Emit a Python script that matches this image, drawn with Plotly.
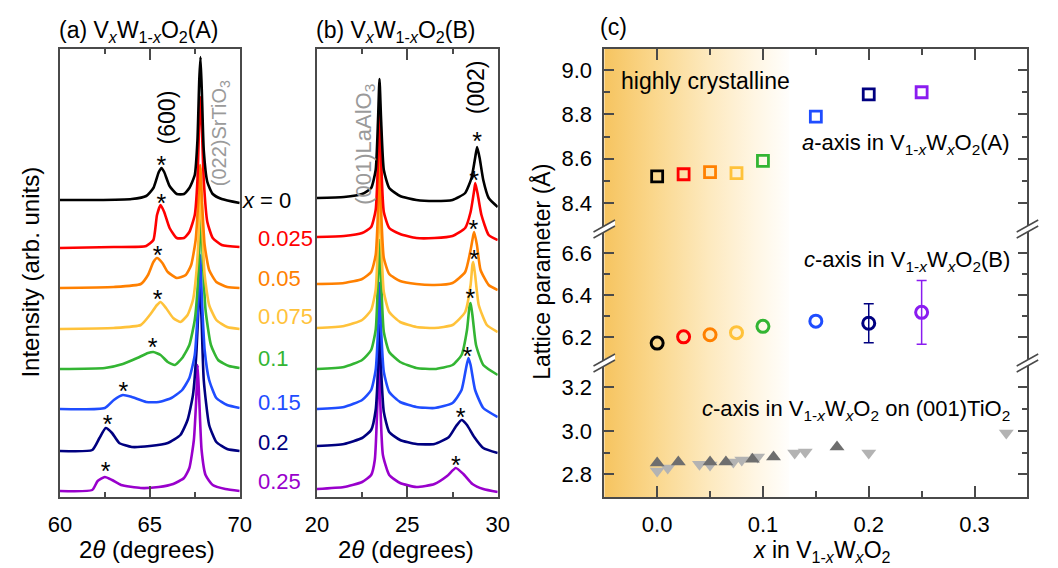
import plotly.graph_objects as go

W, H = 1058, 568
FONT = "Liberation Sans, Arial, sans-serif"
AXC = "#4a4a4a"

# ---------------- data ----------------
compositions = ["0", "0.025", "0.05", "0.075", "0.1", "0.15", "0.2", "0.25"]
colors = ["#000000", "#ff0000", "#ff8000", "#ffc23a", "#33b533", "#1f4dff", "#000080", "#9900cc"]
c_colors = ["#000000", "#ff0000", "#ff8000", "#ffc23a", "#33b533", "#1f4dff", "#000080", "#8a1cf0"]

# Panel (a): 2theta 60-70, offset intensity (arb. units)
a_x = [
    [60, 62, 64, 64.8, 65.2, 65.5, 65.65, 65.8, 66.1, 66.5, 66.9, 67.2, 67.5, 67.65, 67.75, 67.82, 67.9, 68.0, 68.2, 68.5, 69, 70],
    [60, 63, 64.8, 65.2, 65.4, 65.6, 65.8, 66.1, 66.5, 66.9, 67.2, 67.5, 67.65, 67.75, 67.82, 67.9, 68.0, 68.2, 68.5, 69, 70],
    [60, 63, 64.5, 64.9, 65.2, 65.4, 65.7, 66.0, 66.5, 67.0, 67.3, 67.55, 67.7, 67.8, 67.9, 68.05, 68.3, 68.7, 69.3, 70],
    [60, 63, 64.5, 65.0, 65.4, 65.6, 65.9, 66.3, 66.7, 67.1, 67.4, 67.6, 67.75, 67.82, 67.9, 68.05, 68.3, 68.7, 69.3, 70],
    [60, 62.5, 63.5, 64.3, 64.9, 65.2, 65.6, 66.0, 66.4, 66.8, 67.2, 67.5, 67.65, 67.78, 67.85, 67.95, 68.1, 68.4, 68.8, 69.4, 70],
    [60, 62.5, 63.0, 63.5, 64.0, 64.8, 65.5, 66.2, 66.8, 67.2, 67.5, 67.7, 67.8, 67.9, 68.05, 68.3, 68.7, 69.3, 70],
    [60, 61.8, 62.2, 62.55, 62.9, 63.3, 64.0, 65.0, 66.0, 66.7, 67.1, 67.4, 67.6, 67.72, 67.78, 67.88, 68.0, 68.3, 68.7, 69.3, 70],
    [60, 61.8, 62.1, 62.5, 62.9, 63.4, 64.5, 65.5, 66.3, 66.9, 67.2, 67.45, 67.58, 67.66, 67.75, 67.88, 68.1, 68.5, 69.2, 70],
]
a_y = [
    [297, 297, 298, 301, 309, 325, 329, 325, 311, 303, 303, 309, 322, 357, 417, 440, 402, 347, 315, 303, 298, 294],
    [249, 250, 251, 257, 282, 292, 285, 269, 259, 259, 265, 282, 317, 377, 400, 367, 317, 275, 259, 252, 250],
    [209, 210, 213, 222, 235, 239, 234, 225, 219, 222, 232, 257, 297, 332, 297, 252, 227, 215, 210, 209],
    [168, 169, 172, 182, 192, 195, 189, 179, 175, 182, 197, 227, 277, 329, 277, 222, 192, 177, 170, 168],
    [128, 129, 133, 139, 144, 145, 142, 135, 132, 139, 152, 177, 207, 257, 287, 237, 187, 152, 137, 131, 129],
    [88, 89, 97, 102, 100, 95, 95, 99, 107, 119, 142, 197, 242, 197, 147, 117, 99, 92, 89],
    [46, 47, 59, 69, 64, 54, 50, 51, 54, 62, 77, 102, 147, 197, 217, 177, 117, 72, 55, 48, 46],
    [6, 7, 16, 20, 17, 12, 9, 10, 13, 19, 29, 57, 97, 132, 97, 47, 22, 12, 8, 6],
]
a_star_x = [65.65, 65.65, 65.43, 65.43, 65.16, 63.53, 62.66, 62.55]
a_star_y = [329, 291, 239, 195, 147, 103, 70, 23]

# Panel (b): 2theta 20-30
b_x = [
    [20, 21.5, 22.5, 23.0, 23.25, 23.38, 23.46, 23.55, 23.7, 24.0, 24.6, 25.5, 26.5, 27.5, 28.2, 28.55, 28.75, 28.86, 29.0, 29.2, 29.5, 30],
    [20, 21.5, 22.5, 23.0, 23.25, 23.38, 23.46, 23.55, 23.7, 24.0, 24.6, 25.5, 26.5, 27.5, 28.2, 28.5, 28.7, 28.76, 28.9, 29.1, 29.5, 30],
    [20, 21.5, 22.5, 23.0, 23.25, 23.38, 23.46, 23.55, 23.7, 24.0, 24.6, 25.5, 26.5, 27.5, 28.2, 28.5, 28.65, 28.7, 28.85, 29.05, 29.5, 30],
    [20, 21.5, 22.5, 23.0, 23.25, 23.38, 23.46, 23.55, 23.7, 24.0, 24.6, 25.5, 26.5, 27.5, 28.2, 28.5, 28.6, 28.65, 28.75, 28.95, 29.4, 30],
    [20, 21.5, 22.5, 23.0, 23.25, 23.38, 23.46, 23.55, 23.7, 24.0, 24.6, 25.5, 26.5, 27.5, 28.0, 28.3, 28.45, 28.5, 28.6, 28.8, 29.2, 30],
    [20, 21.5, 22.5, 23.0, 23.25, 23.38, 23.46, 23.55, 23.7, 24.0, 24.6, 25.5, 26.5, 27.5, 28.0, 28.25, 28.38, 28.5, 28.75, 29.2, 30],
    [20, 21.5, 22.5, 23.0, 23.25, 23.38, 23.46, 23.55, 23.7, 24.0, 24.6, 25.5, 26.5, 27.3, 27.7, 28.0, 28.3, 28.7, 29.2, 30],
    [20, 21.5, 22.5, 23.0, 23.2, 23.35, 23.42, 23.5, 23.65, 24.0, 24.6, 25.5, 26.5, 27.2, 27.68, 28.1, 28.6, 29.2, 30],
]
b_y = [
    [299, 300, 303, 309, 327, 377, 418, 377, 327, 309, 301, 297, 296, 297, 304, 319, 339, 350, 339, 317, 299, 290],
    [260, 261, 264, 270, 287, 337, 392, 337, 285, 269, 263, 259, 259, 261, 269, 285, 307, 314, 302, 282, 262, 257],
    [213, 214, 218, 225, 242, 287, 347, 287, 239, 223, 216, 213, 212, 214, 225, 247, 262, 265, 252, 227, 212, 207],
    [169, 171, 177, 187, 207, 257, 307, 257, 205, 185, 175, 170, 169, 172, 185, 212, 232, 235, 222, 192, 172, 165],
    [128, 130, 137, 147, 167, 217, 257, 217, 165, 145, 135, 129, 128, 132, 142, 167, 192, 194, 182, 152, 132, 122],
    [88, 90, 97, 107, 127, 167, 214, 167, 125, 105, 95, 90, 89, 94, 107, 129, 139, 132, 107, 89, 80],
    [51, 53, 59, 67, 87, 127, 172, 127, 85, 65, 57, 53, 53, 60, 71, 77, 72, 60, 49, 44],
    [8, 10, 15, 22, 37, 97, 157, 97, 42, 22, 14, 10, 13, 21, 29, 23, 13, 8, 5],
]
b_star_x = [28.86, 28.70, 28.65, 28.70, 28.49, 28.32, 27.95, 27.68]
b_star_y = [353, 314, 265, 235, 196, 138, 77, 29]

# Panel (c): lattice parameters
x_W = [0, 0.025, 0.05, 0.075, 0.1, 0.15, 0.2, 0.25]
a_axis_A = [8.52, 8.53, 8.54, 8.535, 8.59, 8.79, 8.89, 8.90]
c_axis_B = [6.17, 6.20, 6.21, 6.22, 6.25, 6.275, 6.265, 6.317]
c_axis_B_err = [0, 0, 0, 0, 0, 0, 0.093, 0.152]
tio2_up_x = [0, 0.02, 0.05, 0.065, 0.09, 0.11, 0.17]
tio2_up_y = [2.852, 2.857, 2.857, 2.857, 2.87, 2.88, 2.926]
tio2_dn_x = [0, 0.01, 0.04, 0.05, 0.072, 0.08, 0.095, 0.13, 0.14, 0.2, 0.33]
tio2_dn_y = [2.815, 2.829, 2.847, 2.843, 2.857, 2.866, 2.88, 2.898, 2.903, 2.898, 2.99]

# ---------------- layout helpers ----------------
T, B = 49, 71
PH = H - T - B


def px(x):
    return x / W


def py(y):
    return (H - B - y) / PH


fig = go.Figure()

LINE = dict(width=2.6, shape="spline", smoothing=0.5)
for i in reversed(range(8)):
    fig.add_trace(go.Scatter(x=a_x[i], y=a_y[i], mode="lines", xaxis="x", yaxis="y",
                             line=dict(color=colors[i], **LINE), showlegend=False, hoverinfo="skip"))
    fig.add_trace(go.Scatter(x=b_x[i], y=b_y[i], mode="lines", xaxis="x2", yaxis="y2",
                             line=dict(color=colors[i], **LINE), showlegend=False, hoverinfo="skip"))
fig.add_trace(go.Scatter(x=a_star_x, y=a_star_y, mode="text", text=["*"] * 8, xaxis="x", yaxis="y",
                         textfont=dict(family=FONT, size=25, color="black"), showlegend=False, hoverinfo="skip"))
fig.add_trace(go.Scatter(x=b_star_x, y=b_star_y, mode="text", text=["*"] * 8, xaxis="x2", yaxis="y2",
                         textfont=dict(family=FONT, size=25, color="black"), showlegend=False, hoverinfo="skip"))

# Panel (c) gradient background: three segments
seg_axes = ["y3", "y4", "y5"]
seg_ranges = [[2.696, 3.312], [6.075, 6.715], [8.283, 9.095]]
grad = [[0, "rgb(246,196,96)"], [0.25, "rgb(250,214,138)"], [0.55, "rgb(253,233,190)"],
        [0.8, "rgb(255,246,228)"], [1, "rgb(255,255,255)"]]
for ya, rg in zip(seg_axes, seg_ranges):
    fig.add_trace(go.Scatter(x=[-0.05, 0.125, 0.125, -0.05, -0.05], y=[rg[0], rg[0], rg[1], rg[1], rg[0]],
                             mode="lines", fill="toself", line=dict(width=0), xaxis="x3", yaxis=ya,
                             fillgradient=dict(type="horizontal", colorscale=grad, start=-0.05, stop=0.125),
                             showlegend=False, hoverinfo="skip"))

# TiO2 triangles
fig.add_trace(go.Scatter(x=tio2_dn_x, y=tio2_dn_y, mode="markers", xaxis="x3", yaxis="y3",
                         marker=dict(symbol="triangle-down", size=13, color="#b3b3b3"), showlegend=False))
fig.add_trace(go.Scatter(x=tio2_up_x, y=tio2_up_y, mode="markers", xaxis="x3", yaxis="y3",
                         marker=dict(symbol="triangle-up", size=13, color="#6e6e6e"), showlegend=False))

for i in range(8):
    fig.add_trace(go.Scatter(x=[x_W[i]], y=[c_axis_B[i]], mode="markers", xaxis="x3", yaxis="y4",
                             marker=dict(symbol="circle-open", size=12, color=c_colors[i], line=dict(width=3, color=c_colors[i])),
                             error_y=dict(type="data", array=[c_axis_B_err[i]], visible=c_axis_B_err[i] > 0,
                                          color=c_colors[i], thickness=1.5, width=5),
                             showlegend=False))
    fig.add_trace(go.Scatter(x=[x_W[i]], y=[a_axis_A[i]], mode="markers", xaxis="x3", yaxis="y5",
                             marker=dict(symbol="square-open", size=11, color=c_colors[i], line=dict(width=2.8, color=c_colors[i])),
                             showlegend=False))

# dummy trace for top mirror axis of panel (c)
fig.add_trace(go.Scatter(x=[None], y=[None], xaxis="x4", yaxis="y5", showlegend=False, hoverinfo="skip"))

tickfont = dict(family=FONT, size=22, color="black")
common_x = dict(showline=True, linecolor=AXC, linewidth=1.5, mirror="ticks", ticks="inside",
                tickcolor=AXC, tickwidth=1.5, ticklen=11, tickfont=tickfont, showgrid=False,
                zeroline=False, ticklabelstandoff=7)

fig.update_layout(
    width=W, height=H, margin=dict(l=0, r=0, t=T, b=B),
    paper_bgcolor="white", plot_bgcolor="rgba(0,0,0,0)",
    font=dict(family=FONT, color="black"),
    xaxis=dict(domain=[px(49), px(233)], range=[60, 70], tickvals=[60, 65, 70], anchor="y",
               minor=dict(tickvals=[62.5, 67.5], ticks="inside", ticklen=5, tickcolor=AXC, tickwidth=1.5),
               **common_x),
    yaxis=dict(domain=[0, 1], range=[0, 448], anchor="x", showline=True, mirror=True, linecolor=AXC,
               linewidth=1.5, showticklabels=False, ticks="", showgrid=False, zeroline=False),
    xaxis2=dict(domain=[px(312), px(497)], range=[20, 30], tickvals=[20, 25, 30], anchor="y2",
                minor=dict(tickvals=[22.5, 27.5], ticks="inside", ticklen=5, tickcolor=AXC, tickwidth=1.5),
                **common_x),
    yaxis2=dict(domain=[0, 1], range=[0, 448], anchor="x2", showline=True, mirror=True, linecolor=AXC,
                linewidth=1.5, showticklabels=False, ticks="", showgrid=False, zeroline=False),
    xaxis3=dict(domain=[px(606), px(1039)], range=[-0.05, 0.35], tickvals=[0, 0.1, 0.2, 0.3],
                ticktext=["0.0", "0.1", "0.2", "0.3"], anchor="y3",
                minor=dict(tickvals=[0.05, 0.15, 0.25], ticks="inside", ticklen=6, tickcolor=AXC, tickwidth=1.5),
                **{k: v for k, v in common_x.items() if k != "mirror"}),
    xaxis4=dict(domain=[px(606), px(1039)], range=[-0.05, 0.35], tickvals=[0, 0.1, 0.2, 0.3], anchor="y5",
                side="top", showticklabels=False, showline=True, linecolor=AXC, linewidth=1.5,
                ticks="inside", tickcolor=AXC, tickwidth=1.5, ticklen=11, showgrid=False, zeroline=False,
                minor=dict(tickvals=[0.05, 0.15, 0.25], ticks="inside", ticklen=6, tickcolor=AXC, tickwidth=1.5)),
)

seg_domains = [[0, py(363)], [py(363), py(229)], [py(229), 1]]
seg_ticks = [[2.8, 3.0, 3.2], [6.2, 6.4, 6.6], [8.4, 8.6, 8.8, 9.0]]
seg_minor = [[2.9, 3.1], [6.3, 6.5], [8.5, 8.7, 8.9]]
for ya, rg, dm, tv, mv in zip(seg_axes, seg_ranges, seg_domains, seg_ticks, seg_minor):
    fig.layout["yaxis" + ya[1:]] = dict(
        domain=dm, range=rg, anchor="x3", tickvals=tv, ticktext=[f"{v:.1f}" for v in tv],
        showline=True, linecolor=AXC, linewidth=1.5, mirror="ticks", ticks="inside", tickcolor=AXC,
        tickwidth=1.5, ticklen=10, tickfont=dict(family=FONT, size=22, color="black"),
        showgrid=False, zeroline=False, ticklabelstandoff=6,
        minor=dict(tickvals=mv, ticks="inside", ticklen=6, tickcolor=AXC, tickwidth=1.5))

# ---------------- annotations ----------------
anns = []


def ann(text, x, y, size=22, color="black", xanchor="center", yanchor="middle", angle=0):
    anns.append(dict(text=text, x=px(x), y=py(y), xref="paper", yref="paper", showarrow=False,
                     xanchor=xanchor, yanchor=yanchor, textangle=angle,
                     font=dict(family=FONT, size=size, color=color)))


ann("(a) V<sub><i>x</i></sub>W<sub>1-<i>x</i></sub>O<sub>2</sub>(A)", 46, 31, size=23, xanchor="left")
ann("(b) V<sub><i>x</i></sub>W<sub>1-<i>x</i></sub>O<sub>2</sub>(B)", 309, 31, size=23, xanchor="left")
ann("(c)", 600, 27, size=23, xanchor="left")
ann("2<i>θ</i> (degrees)", 138, 549, size=24)
ann("2<i>θ</i> (degrees)", 403, 549, size=24)
ann("<i>x</i> in V<sub>1-<i>x</i></sub>W<sub><i>x</i></sub>O<sub>2</sub>", 829, 551, size=23)
ann("Intensity (arb. units)", 18, 272, size=24, angle=-90)
ann("Lattice parameter (Å)", 541, 272, size=23, angle=-90)

label_y = [200, 238, 278, 316, 358, 402, 442, 481]
ann("<i>x</i> = 0", 288, label_y[0], size=22, xanchor="right")
for i in range(1, 8):
    ann(compositions[i], 250, label_y[i], size=22, color=colors[i], xanchor="left")

ann("(600)", 159, 117, size=23, angle=-90)
ann("(022)SrTiO<sub>3</sub>", 213, 133, size=20, color="#9a9a9a", angle=-90)
ann("(001)LaAlO<sub>3</sub>", 361, 144, size=22, color="#9a9a9a", angle=-90)
ann("(002)", 475, 87, size=23, angle=-90)

ann("highly crystalline", 621, 81, size=23, xanchor="left")
ann("<i>a</i>-axis in V<sub>1-<i>x</i></sub>W<sub><i>x</i></sub>O<sub>2</sub>(A)", 1023, 144, size=22, xanchor="right")
ann("<i>c</i>-axis in V<sub>1-<i>x</i></sub>W<sub><i>x</i></sub>O<sub>2</sub>(B)", 1023, 261, size=22, xanchor="right")
ann("<i>c</i>-axis in V<sub>1-<i>x</i></sub>W<sub><i>x</i></sub>O<sub>2</sub> on (001)TiO<sub>2</sub>", 1023, 410, size=22, xanchor="right")

# ---------------- axis break marks ----------------
shapes = []
for sx in (606, 1039):
    for by in (229, 363):
        d = 11
        s = 6
        g = 3
        path = (f"M {px(sx-d)},{py(by+s+g)} L {px(sx+d)},{py(by-s+g)} "
                f"L {px(sx+d)},{py(by-s-g)} L {px(sx-d)},{py(by+s-g)} Z")
        shapes.append(dict(type="path", path=path, xref="paper", yref="paper",
                           fillcolor="white", line=dict(width=0)))
        for off in (g, -g):
            shapes.append(dict(type="line", xref="paper", yref="paper",
                               x0=px(sx - d), y0=py(by + s + off), x1=px(sx + d), y1=py(by - s + off),
                               line=dict(color=AXC, width=1.5)))

fig.update_layout(annotations=anns, shapes=shapes)
fig.write_html("out.html")
